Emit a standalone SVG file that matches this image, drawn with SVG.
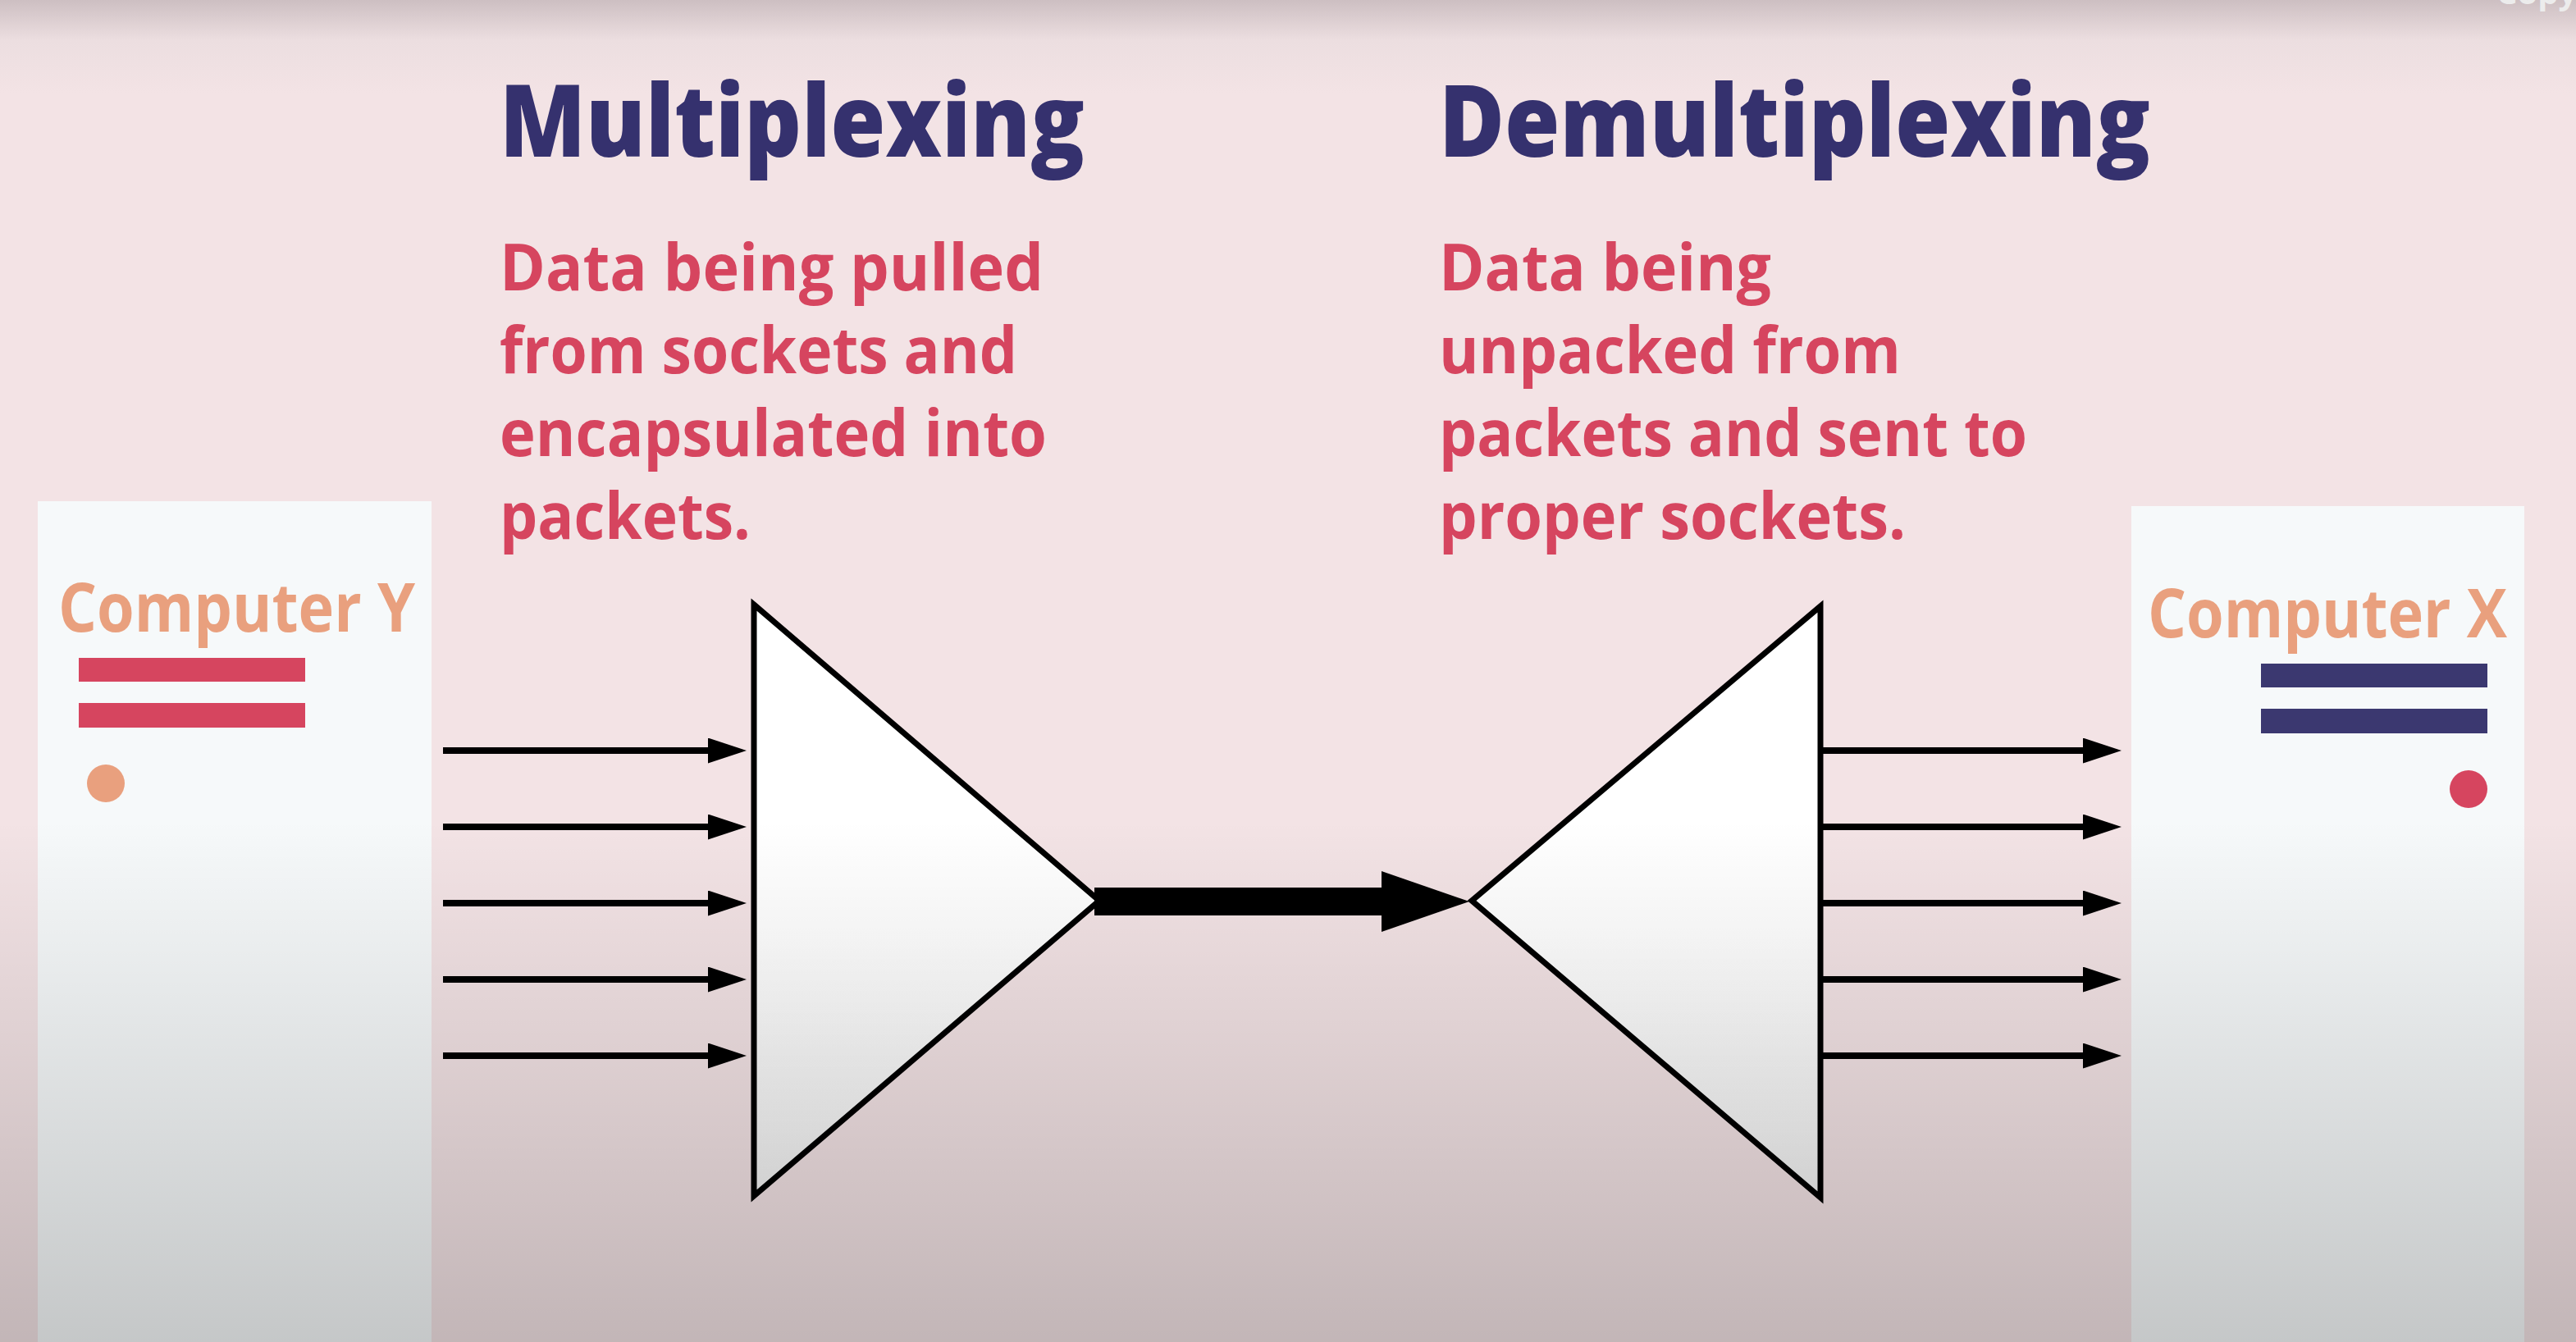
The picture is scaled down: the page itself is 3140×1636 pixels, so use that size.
<svg xmlns="http://www.w3.org/2000/svg" width="3140" height="1636" viewBox="0 0 3140 1636">
<style>
.title{font-family:"Open Sans","Noto Sans",sans-serif;font-weight:800;font-size:122px;fill:#35316e}
.body{font-family:"Open Sans","Noto Sans",sans-serif;font-weight:700;font-size:79px;fill:#d6455f}
.comp{font-family:"Open Sans","Noto Sans",sans-serif;font-weight:700;font-size:83px;fill:#e9a07e}
.box{fill:#f6f9fa}
.tri{fill:url(#triG);stroke:#000;stroke-width:7;stroke-linejoin:miter}
.arr{stroke:#000;stroke-width:8;fill:none}
</style>
<defs>
<linearGradient id="bgG" x1="0" y1="0" x2="0" y2="1636" gradientUnits="userSpaceOnUse">
<stop offset="0" stop-color="#cdbfc2"/>
<stop offset="0.03" stop-color="#ecdee0"/>
<stop offset="0.07" stop-color="#f3e3e5"/>
<stop offset="1" stop-color="#f3e3e5"/>
</linearGradient>
<linearGradient id="triG" x1="0" y1="0" x2="0" y2="1">
<stop offset="0" stop-color="#ffffff"/>
<stop offset="0.55" stop-color="#ffffff"/>
<stop offset="1" stop-color="#f4f4f4"/>
</linearGradient>
<linearGradient id="shade" x1="0" y1="1000" x2="0" y2="1636" gradientUnits="userSpaceOnUse">
<stop offset="0" stop-color="#000" stop-opacity="0"/>
<stop offset="1" stop-color="#000" stop-opacity="0.2"/>
</linearGradient>
<marker id="ah" markerUnits="userSpaceOnUse" markerWidth="47" markerHeight="31" refX="17" refY="15.5" orient="auto">
<path d="M0,0 L47,15.5 L0,31 Z" fill="#000"/>
</marker>
<marker id="bigAh" markerUnits="userSpaceOnUse" markerWidth="107" markerHeight="74" refX="6" refY="37" orient="auto">
<path d="M0,0 L107,37 L0,74 Z" fill="#000"/>
</marker>
</defs>
<rect x="0" y="0" width="3140" height="1636" fill="url(#bgG)"/>

<g id="computer-y">
<rect class="box" x="46" y="611" width="480" height="1025"/>
<text class="comp" x="71" y="770" textLength="435" lengthAdjust="spacingAndGlyphs">Computer Y</text>
<rect x="96" y="802" width="276" height="29" fill="#d6455f"/>
<rect x="96" y="857" width="276" height="30" fill="#d6455f"/>
<circle cx="129" cy="955" r="23" fill="#e9a07e"/>
</g>

<g id="computer-x">
<rect class="box" x="2598" y="617" width="479" height="1019"/>
<text class="comp" x="2618" y="777" textLength="438" lengthAdjust="spacingAndGlyphs">Computer X</text>
<rect x="2756" y="809" width="276" height="29" fill="#3b3870"/>
<rect x="2756" y="864" width="276" height="30" fill="#3b3870"/>
<circle cx="3009" cy="962" r="23" fill="#d6455f"/>
</g>

<g id="multiplexing-label">
<text class="title" x="609" y="191" textLength="713" lengthAdjust="spacingAndGlyphs">Multiplexing</text>
<text class="body" x="609" y="354" textLength="663" lengthAdjust="spacingAndGlyphs">Data being pulled</text>
<text class="body" x="609" y="455" textLength="631" lengthAdjust="spacingAndGlyphs">from sockets and</text>
<text class="body" x="609" y="556" textLength="667" lengthAdjust="spacingAndGlyphs">encapsulated into</text>
<text class="body" x="609" y="657" textLength="306" lengthAdjust="spacingAndGlyphs">packets.</text>
</g>

<g id="demultiplexing-label">
<text class="title" x="1754" y="191" textLength="867" lengthAdjust="spacingAndGlyphs">Demultiplexing</text>
<text class="body" x="1754" y="354" textLength="405" lengthAdjust="spacingAndGlyphs">Data being</text>
<text class="body" x="1754" y="455" textLength="563" lengthAdjust="spacingAndGlyphs">unpacked from</text>
<text class="body" x="1754" y="556" textLength="717" lengthAdjust="spacingAndGlyphs">packets and sent to</text>
<text class="body" x="1754" y="657" textLength="569" lengthAdjust="spacingAndGlyphs">proper sockets.</text>
</g>

<g id="mux">
<polygon class="tri" points="919,737 1340,1098 919,1458"/>
</g>
<g id="demux">
<polygon class="tri" points="2219,739 1794,1098 2219,1460"/>
</g>

<g id="connectors">
<line class="arr" x1="540" y1="915" x2="880" y2="915" marker-end="url(#ah)"/>
<line class="arr" x1="540" y1="1008" x2="880" y2="1008" marker-end="url(#ah)"/>
<line class="arr" x1="540" y1="1101" x2="880" y2="1101" marker-end="url(#ah)"/>
<line class="arr" x1="540" y1="1194" x2="880" y2="1194" marker-end="url(#ah)"/>
<line class="arr" x1="540" y1="1287" x2="880" y2="1287" marker-end="url(#ah)"/>
<line x1="1334" y1="1099" x2="1690" y2="1099" stroke="#000" stroke-width="34" marker-end="url(#bigAh)"/>
<line class="arr" x1="2222" y1="915" x2="2556" y2="915" marker-end="url(#ah)"/>
<line class="arr" x1="2222" y1="1008" x2="2556" y2="1008" marker-end="url(#ah)"/>
<line class="arr" x1="2222" y1="1101" x2="2556" y2="1101" marker-end="url(#ah)"/>
<line class="arr" x1="2222" y1="1194" x2="2556" y2="1194" marker-end="url(#ah)"/>
<line class="arr" x1="2222" y1="1287" x2="2556" y2="1287" marker-end="url(#ah)"/>
</g>

<rect x="0" y="1000" width="3140" height="636" fill="url(#shade)"/>
<text x="3043" y="5" font-family="'Open Sans',sans-serif" font-weight="700" font-size="40" fill="#ececec">Copy</text>
</svg>
